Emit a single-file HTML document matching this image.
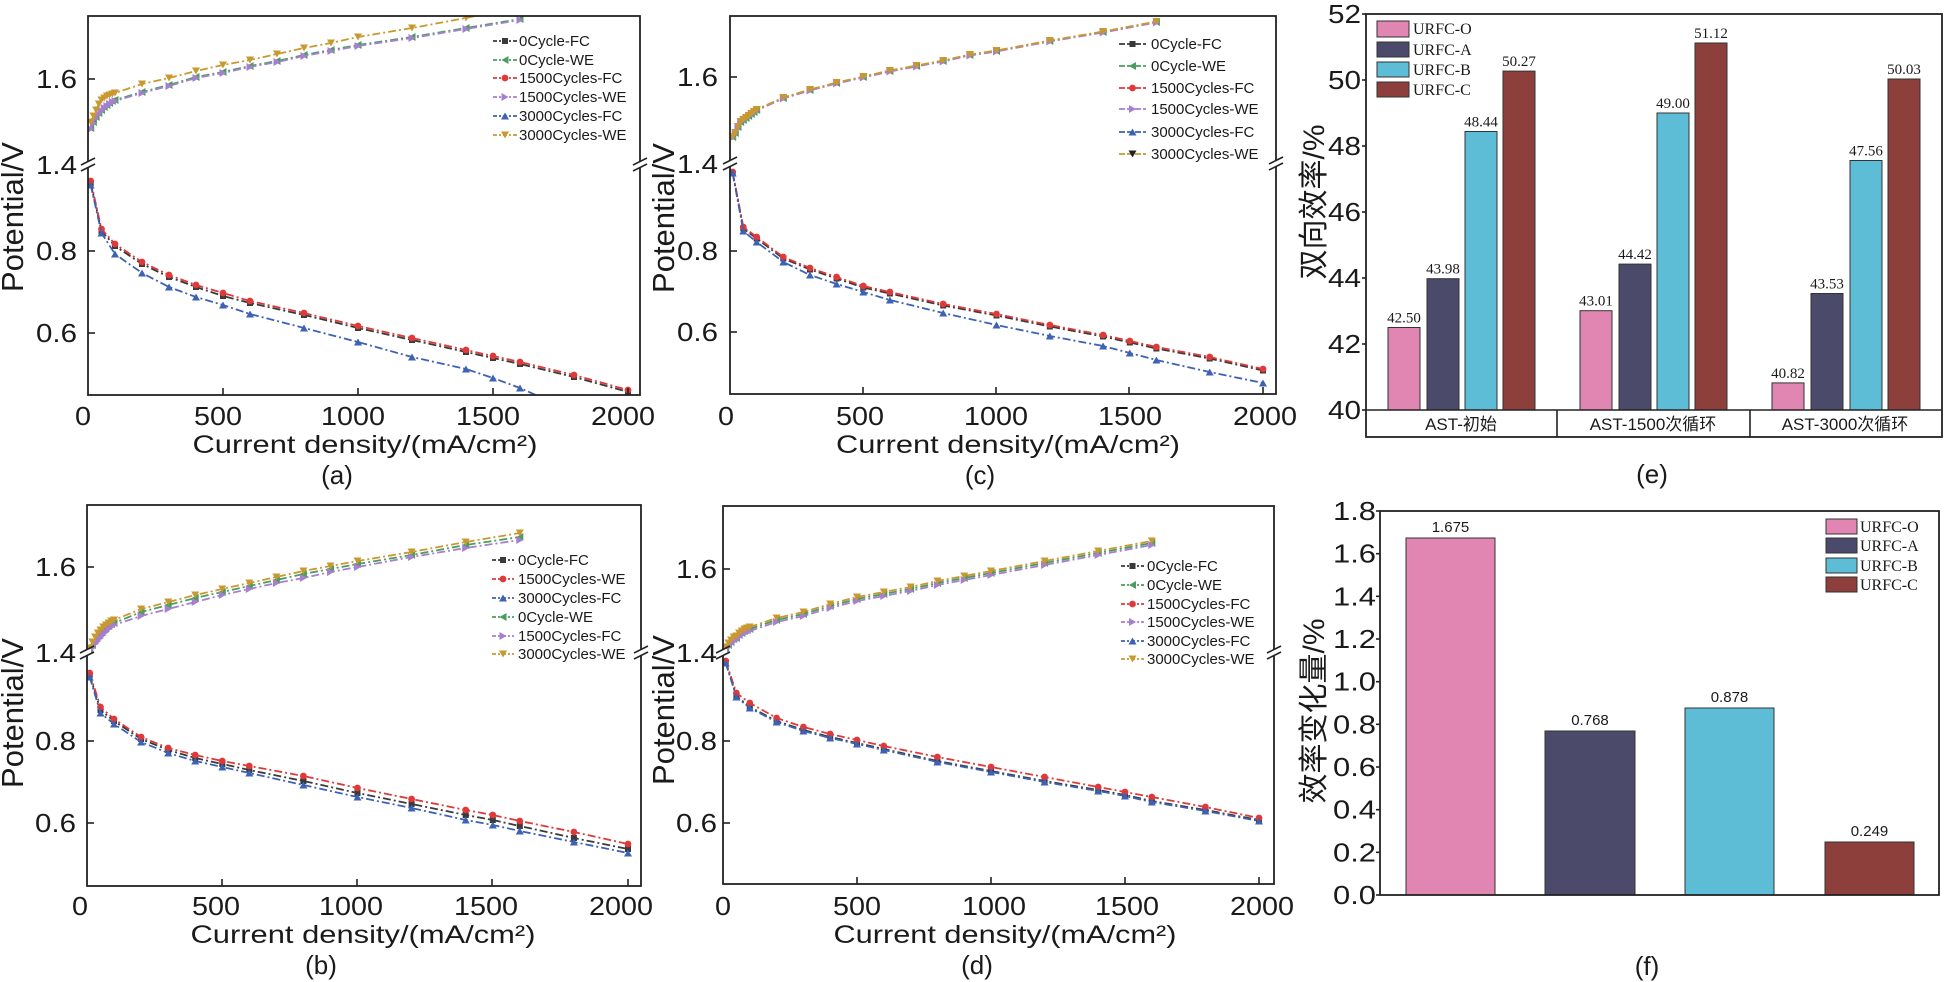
<!DOCTYPE html>
<html><head><meta charset="utf-8"><style>
html,body{margin:0;padding:0;background:#fff;}
svg{display:block;}
.t{font-family:"Liberation Sans",Arial,sans-serif;fill:#1a1a1a;}
.s{font-family:"Liberation Serif","Times New Roman",serif;fill:#1a1a1a;}
.c{font-family:"Liberation Sans","Noto Sans CJK SC",sans-serif;fill:#1a1a1a;}
.ln{fill:none;stroke-width:1.8;stroke-dasharray:8 3 2 3;}
.fr{fill:none;stroke:#222;stroke-width:1.8;}
.tk{stroke:#222;stroke-width:1.6;}
</style></head><body>
<svg width="1951" height="982" viewBox="0 0 1951 982" xmlns="http://www.w3.org/2000/svg">
<defs>
<marker id="mSq" markerWidth="10" markerHeight="10" refX="5" refY="5" markerUnits="userSpaceOnUse" viewBox="0 0 10 10"><rect x="2" y="2" width="6" height="6" fill="#3a3a3a"/></marker>
<marker id="mCi" markerWidth="10" markerHeight="10" refX="5" refY="5" markerUnits="userSpaceOnUse" viewBox="0 0 10 10"><circle cx="5" cy="5" r="3.4" fill="#e0393a"/></marker>
<marker id="mTu" markerWidth="10" markerHeight="10" refX="5" refY="5" markerUnits="userSpaceOnUse" viewBox="0 0 10 10"><path d="M5 1.5 L9 8.5 L1 8.5 Z" fill="#3d62b5"/></marker>
<marker id="mTl" markerWidth="10" markerHeight="10" refX="5" refY="5" markerUnits="userSpaceOnUse" viewBox="0 0 10 10"><path d="M1.5 5 L8.5 1 L8.5 9 Z" fill="#4a9d5e"/></marker>
<marker id="mTr" markerWidth="10" markerHeight="10" refX="5" refY="5" markerUnits="userSpaceOnUse" viewBox="0 0 10 10"><path d="M8.5 5 L1.5 1 L1.5 9 Z" fill="#a67fd0"/></marker>
<marker id="mTd" markerWidth="10" markerHeight="10" refX="5" refY="5" markerUnits="userSpaceOnUse" viewBox="0 0 10 10"><path d="M5 8.5 L9 1.5 L1 1.5 Z" fill="#c9982f"/></marker>
<marker id="mTdk" markerWidth="10" markerHeight="10" refX="5" refY="5" markerUnits="userSpaceOnUse" viewBox="0 0 10 10"><path d="M5 8.5 L9 1.5 L1 1.5 Z" fill="#222"/></marker>
<clipPath id="ca"><rect x="88" y="16" width="552" height="379"/></clipPath>
<clipPath id="cc"><rect x="730" y="16" width="546" height="378"/></clipPath>
<clipPath id="cb"><rect x="87" y="505" width="554" height="381"/></clipPath>
<clipPath id="cd"><rect x="723" y="506" width="551" height="378"/></clipPath>
</defs>
<rect width="1951" height="982" fill="#fff"/>

<!-- ================= PANEL (a) ================= -->
<g clip-path="url(#ca)">
<polyline class="ln" stroke="#4a9d5e" marker-start="url(#mTl)" marker-mid="url(#mTl)" marker-end="url(#mTl)" points="90.7,128 93.4,122 96.1,117 98.8,113 101.5,110 104.2,107 106.9,105 109.6,103 112.3,101 115,100 142,92 169,85 196,77 223,72 250,66 277,61 304,55 331,50 358,45 412,37 466,28 520,19"/>
<polyline class="ln" stroke="#a67fd0" marker-start="url(#mTr)" marker-mid="url(#mTr)" marker-end="url(#mTr)" points="90.7,129 93.4,123 96.1,118 98.8,114 101.5,111 104.2,108 106.9,106 109.6,104 112.3,102 115,101 142,93 169,86 196,78 223,73 250,67 277,62 304,56 331,51 358,46 412,38 466,29 520,20"/>
<polyline class="ln" stroke="#c9982f" marker-start="url(#mTd)" marker-mid="url(#mTd)" marker-end="url(#mTd)" points="90.7,122 93.4,116 96.1,110 98.8,104 101.5,100 104.2,98 106.9,96 109.6,95 112.3,94 115,93 142,84 169,78 196,71 223,65 250,60 277,54 304,48 331,43 358,37 412,28 466,18 493,12"/>
<polyline class="ln" stroke="#3a3a3a" marker-start="url(#mSq)" marker-mid="url(#mSq)" marker-end="url(#mSq)" points="90.7,183 101.5,231 115,246 142,264 169,277 196,287 223,296 250,303 304,315 358,328 412,340 466,352 493,358 520,364 574,377 628,392"/>
<polyline class="ln" stroke="#e0393a" marker-start="url(#mCi)" marker-mid="url(#mCi)" marker-end="url(#mCi)" points="90.7,181 101.5,229 115,244 142,262 169,275 196,285 223,293 250,301 304,313 358,326 412,338 466,350 493,356 520,362 574,375 628,390"/>
<polyline class="ln" stroke="#3d62b5" marker-start="url(#mTu)" marker-mid="url(#mTu)" marker-end="url(#mTu)" points="90.7,185 101.5,233 115,254 142,273 169,287 196,297 223,305 250,314 304,328 358,342 412,357 466,369 493,378 520,388 547,400"/>
</g>
<rect class="fr" x="88" y="16" width="552" height="379"/>
<g class="tk">
<line x1="88" y1="79" x2="95" y2="79"/><line x1="88" y1="251" x2="95" y2="251"/><line x1="88" y1="333" x2="95" y2="333"/>
<line x1="223" y1="395" x2="223" y2="388"/><line x1="358" y1="395" x2="358" y2="388"/><line x1="493" y1="395" x2="493" y2="388"/><line x1="628" y1="395" x2="628" y2="388"/>
</g>
<g stroke="#222" stroke-width="1.6">
<rect x="84" y="161" width="8" height="6" fill="#fff" stroke="none"/>
<line x1="81" y1="165" x2="95" y2="158"/><line x1="81" y1="171" x2="95" y2="164"/>
<rect x="636" y="161" width="8" height="6" fill="#fff" stroke="none"/>
<line x1="633" y1="165" x2="647" y2="158"/><line x1="633" y1="171" x2="647" y2="164"/>
</g>
<g class="t" font-size="26" text-anchor="end">
<text x="77" y="88" textLength="41" lengthAdjust="spacingAndGlyphs">1.6</text>
<text x="77" y="174" textLength="41" lengthAdjust="spacingAndGlyphs">1.4</text>
<text x="77" y="260" textLength="41" lengthAdjust="spacingAndGlyphs">0.8</text>
<text x="77" y="342" textLength="41" lengthAdjust="spacingAndGlyphs">0.6</text>
</g>
<g class="t" font-size="26" text-anchor="middle">
<text x="83" y="425" textLength="16" lengthAdjust="spacingAndGlyphs">0</text>
<text x="218" y="425" textLength="48" lengthAdjust="spacingAndGlyphs">500</text>
<text x="353" y="425" textLength="64" lengthAdjust="spacingAndGlyphs">1000</text>
<text x="488" y="425" textLength="64" lengthAdjust="spacingAndGlyphs">1500</text>
<text x="623" y="425" textLength="64" lengthAdjust="spacingAndGlyphs">2000</text>
</g>
<text class="t" font-size="25" x="365" y="453" text-anchor="middle" textLength="345" lengthAdjust="spacingAndGlyphs">Current density/(mA/cm²)</text>
<text class="t" font-size="31" transform="translate(23,217) rotate(-90)" text-anchor="middle">Potential/V</text>
<text class="t" font-size="26" x="337" y="484" text-anchor="middle">(a)</text>
<g fill="none" stroke-width="1.8" stroke-dasharray="4 2 2 2">
<polyline stroke="#3a3a3a" points="493,41 505,41 517,41" marker-mid="url(#mSq)"/>
<polyline stroke="#4a9d5e" points="493,60 505,60 517,60" marker-mid="url(#mTl)"/>
<polyline stroke="#e0393a" points="493,78 505,78 517,78" marker-mid="url(#mCi)"/>
<polyline stroke="#a67fd0" points="493,97 505,97 517,97" marker-mid="url(#mTr)"/>
<polyline stroke="#3d62b5" points="493,116 505,116 517,116" marker-mid="url(#mTu)"/>
<polyline stroke="#c9982f" points="493,135 505,135 517,135" marker-mid="url(#mTd)"/>
</g>
<g class="t" font-size="15">
<text x="519" y="46">0Cycle-FC</text>
<text x="519" y="65">0Cycle-WE</text>
<text x="519" y="83">1500Cycles-FC</text>
<text x="519" y="102">1500Cycles-WE</text>
<text x="519" y="121">3000Cycles-FC</text>
<text x="519" y="140">3000Cycles-WE</text>
</g>

<!-- ================= PANEL (c) ================= -->
<g clip-path="url(#cc)">
<polyline class="ln" stroke="#4a9d5e" marker-start="url(#mTl)" marker-mid="url(#mTl)" marker-end="url(#mTl)" points="732.7,137 735.3,133 738,127 740.7,122 743.3,120 746,118 748.7,116 751.3,114 754,112 756.7,110 783.3,98 810,90 836.6,83 863.3,77 889.9,71 916.6,66 943.2,61 969.9,55 996.5,51 1049.8,41 1103.1,32 1156.4,22"/>
<polyline class="ln" stroke="#a67fd0" marker-start="url(#mTr)" marker-mid="url(#mTr)" marker-end="url(#mTr)" points="732.7,137.5 735.3,133.5 738,127.5 740.7,122.5 743.3,120.5 746,118.5 748.7,116.5 751.3,114.5 754,112.5 756.7,110.5 783.3,98.5 810,90.5 836.6,83.5 863.3,77.5 889.9,71.5 916.6,66.5 943.2,61.5 969.9,55.5 996.5,51.5 1049.8,41.5 1103.1,32.5 1156.4,22.5"/>
<polyline class="ln" stroke="#c9982f" marker-start="url(#mTd)" marker-mid="url(#mTd)" marker-end="url(#mTd)" points="732.7,136.5 735.3,132.5 738,126.5 740.7,121.5 743.3,119.5 746,117.5 748.7,115.5 751.3,113.5 754,111.5 756.7,109.5 783.3,97.5 810,89.5 836.6,82.5 863.3,76.5 889.9,70.5 916.6,65.5 943.2,60.5 969.9,54.5 996.5,50.5 1049.8,40.5 1103.1,31.5 1156.4,21.5"/>
<polyline class="ln" stroke="#3a3a3a" marker-start="url(#mSq)" marker-mid="url(#mSq)" marker-end="url(#mSq)" points="732.7,173.5 743.3,228.5 756.7,238.5 783.3,258.5 810,269.5 836.6,278.5 863.3,287.5 889.9,293.5 943.2,305.5 996.5,315.5 1049.8,326.5 1103.1,336.5 1129.8,342.5 1156.4,348.5 1209.7,358.5 1263,370.5"/>
<polyline class="ln" stroke="#e0393a" marker-start="url(#mCi)" marker-mid="url(#mCi)" marker-end="url(#mCi)" points="732.7,172 743.3,227 756.7,237 783.3,257 810,268 836.6,277 863.3,286 889.9,292 943.2,304 996.5,314 1049.8,325 1103.1,335 1129.8,341 1156.4,347 1209.7,357 1263,369"/>
<polyline class="ln" stroke="#3d62b5" marker-start="url(#mTu)" marker-mid="url(#mTu)" marker-end="url(#mTu)" points="732.7,173 743.3,231 756.7,242 783.3,262 810,275 836.6,284 863.3,292 889.9,300 943.2,313 996.5,325 1049.8,336 1103.1,346 1129.8,353 1156.4,360 1209.7,372 1263,383"/>
</g>
<rect class="fr" x="730" y="16" width="546" height="378"/>
<g class="tk">
<line x1="730" y1="77" x2="737" y2="77"/><line x1="730" y1="251" x2="737" y2="251"/><line x1="730" y1="332" x2="737" y2="332"/>
<line x1="863" y1="394" x2="863" y2="387"/><line x1="996" y1="394" x2="996" y2="387"/><line x1="1129" y1="394" x2="1129" y2="387"/><line x1="1263" y1="394" x2="1263" y2="387"/>
</g>
<g stroke="#222" stroke-width="1.6">
<rect x="726" y="160" width="8" height="6" fill="#fff" stroke="none"/>
<line x1="723" y1="164" x2="737" y2="157"/><line x1="723" y1="170" x2="737" y2="163"/>
<rect x="1272" y="160" width="8" height="6" fill="#fff" stroke="none"/>
<line x1="1269" y1="164" x2="1283" y2="157"/><line x1="1269" y1="170" x2="1283" y2="163"/>
</g>
<g class="t" font-size="26" text-anchor="end">
<text x="718" y="86" textLength="41" lengthAdjust="spacingAndGlyphs">1.6</text>
<text x="718" y="173" textLength="41" lengthAdjust="spacingAndGlyphs">1.4</text>
<text x="718" y="260" textLength="41" lengthAdjust="spacingAndGlyphs">0.8</text>
<text x="718" y="341" textLength="41" lengthAdjust="spacingAndGlyphs">0.6</text>
</g>
<g class="t" font-size="26" text-anchor="middle">
<text x="726" y="425" textLength="16" lengthAdjust="spacingAndGlyphs">0</text>
<text x="860" y="425" textLength="48" lengthAdjust="spacingAndGlyphs">500</text>
<text x="996" y="425" textLength="64" lengthAdjust="spacingAndGlyphs">1000</text>
<text x="1130" y="425" textLength="64" lengthAdjust="spacingAndGlyphs">1500</text>
<text x="1265" y="425" textLength="64" lengthAdjust="spacingAndGlyphs">2000</text>
</g>
<text class="t" font-size="25" x="1008" y="453" text-anchor="middle" textLength="344" lengthAdjust="spacingAndGlyphs">Current density/(mA/cm²)</text>
<text class="t" font-size="31" transform="translate(674,218) rotate(-90)" text-anchor="middle">Potential/V</text>
<text class="t" font-size="26" x="980" y="484" text-anchor="middle">(c)</text>
<g fill="none" stroke-width="1.8" stroke-dasharray="6 2">
<polyline stroke="#3a3a3a" points="1119,44 1132.5,44 1146,44" marker-mid="url(#mSq)"/>
<polyline stroke="#4a9d5e" points="1119,66 1132.5,66 1146,66" marker-mid="url(#mTl)"/>
<polyline stroke="#e0393a" points="1119,88 1132.5,88 1146,88" marker-mid="url(#mCi)"/>
<polyline stroke="#a67fd0" points="1119,109 1132.5,109 1146,109" marker-mid="url(#mTr)"/>
<polyline stroke="#3d62b5" points="1119,132 1132.5,132 1146,132" marker-mid="url(#mTu)"/>
<polyline stroke="#c9982f" points="1119,154 1132.5,154 1146,154" marker-mid="url(#mTdk)"/>
</g>
<g class="t" font-size="15">
<text x="1151" y="49">0Cycle-FC</text>
<text x="1151" y="71">0Cycle-WE</text>
<text x="1151" y="93">1500Cycles-FC</text>
<text x="1151" y="114">1500Cycles-WE</text>
<text x="1151" y="137">3000Cycles-FC</text>
<text x="1151" y="159">3000Cycles-WE</text>
</g>

<!-- ================= PANEL (b) ================= -->
<g clip-path="url(#cb)">
<polyline class="ln" stroke="#4a9d5e" marker-start="url(#mTl)" marker-mid="url(#mTl)" marker-end="url(#mTl)" points="89.7,650 92.4,645 95.1,640 97.8,636 100.5,633 103.2,630 105.9,628 108.6,626 111.3,624 114,623 141.1,612 168.2,605 195.2,598 222.3,592 249.3,586 276.4,580 303.4,574 330.5,569 357.5,564 411.6,555 465.7,545 519.8,537"/>
<polyline class="ln" stroke="#a67fd0" marker-start="url(#mTr)" marker-mid="url(#mTr)" marker-end="url(#mTr)" points="89.7,652 92.4,648 95.1,644 97.8,641 100.5,638 103.2,635 105.9,632 108.6,629 111.3,627 114,625 141.1,616 168.2,609 195.2,602 222.3,595 249.3,589 276.4,583 303.4,578 330.5,572 357.5,567 411.6,557 465.7,548 519.8,540"/>
<polyline class="ln" stroke="#c9982f" marker-start="url(#mTd)" marker-mid="url(#mTd)" marker-end="url(#mTd)" points="89.7,648 92.4,642 95.1,637 97.8,633 100.5,630 103.2,627 105.9,625 108.6,623 111.3,621 114,620 141.1,609 168.2,602 195.2,595 222.3,589 249.3,583 276.4,577 303.4,571 330.5,566 357.5,561 411.6,552 465.7,542 519.8,533"/>
<polyline class="ln" stroke="#3a3a3a" marker-start="url(#mSq)" marker-mid="url(#mSq)" marker-end="url(#mSq)" points="89.7,675 100.5,710 114,721 141.1,739 168.2,750 195.2,758 222.3,764 249.3,770 303.4,781 357.5,793 411.6,804 465.7,815 492.8,820 519.8,826 573.9,838 628,849"/>
<polyline class="ln" stroke="#e0393a" marker-start="url(#mCi)" marker-mid="url(#mCi)" marker-end="url(#mCi)" points="89.7,673 100.5,707 114,719 141.1,737 168.2,748 195.2,755 222.3,761 249.3,766 303.4,776 357.5,788 411.6,799 465.7,810 492.8,815 519.8,821 573.9,832 628,844"/>
<polyline class="ln" stroke="#3d62b5" marker-start="url(#mTu)" marker-mid="url(#mTu)" marker-end="url(#mTu)" points="89.7,677 100.5,713 114,724 141.1,742 168.2,753 195.2,761 222.3,767 249.3,773 303.4,785 357.5,797 411.6,808 465.7,820 492.8,825 519.8,831 573.9,842 628,853"/>
</g>
<rect class="fr" x="87" y="505" width="554" height="381"/>
<g class="tk">
<line x1="87" y1="567" x2="94" y2="567"/><line x1="87" y1="741" x2="94" y2="741"/><line x1="87" y1="823" x2="94" y2="823"/>
<line x1="222" y1="886" x2="222" y2="879"/><line x1="357" y1="886" x2="357" y2="879"/><line x1="492" y1="886" x2="492" y2="879"/><line x1="628" y1="886" x2="628" y2="879"/>
</g>
<g stroke="#222" stroke-width="1.6">
<rect x="83" y="649" width="8" height="6" fill="#fff" stroke="none"/>
<line x1="80" y1="653" x2="94" y2="646"/><line x1="80" y1="659" x2="94" y2="652"/>
<rect x="637" y="649" width="8" height="6" fill="#fff" stroke="none"/>
<line x1="634" y1="653" x2="648" y2="646"/><line x1="634" y1="659" x2="648" y2="652"/>
</g>
<g class="t" font-size="26" text-anchor="end">
<text x="76" y="576" textLength="41" lengthAdjust="spacingAndGlyphs">1.6</text>
<text x="76" y="662" textLength="41" lengthAdjust="spacingAndGlyphs">1.4</text>
<text x="76" y="750" textLength="41" lengthAdjust="spacingAndGlyphs">0.8</text>
<text x="76" y="832" textLength="41" lengthAdjust="spacingAndGlyphs">0.6</text>
</g>
<g class="t" font-size="26" text-anchor="middle">
<text x="80" y="915" textLength="16" lengthAdjust="spacingAndGlyphs">0</text>
<text x="216" y="915" textLength="48" lengthAdjust="spacingAndGlyphs">500</text>
<text x="351" y="915" textLength="64" lengthAdjust="spacingAndGlyphs">1000</text>
<text x="486" y="915" textLength="64" lengthAdjust="spacingAndGlyphs">1500</text>
<text x="621" y="915" textLength="64" lengthAdjust="spacingAndGlyphs">2000</text>
</g>
<text class="t" font-size="25" x="363" y="943" text-anchor="middle" textLength="345" lengthAdjust="spacingAndGlyphs">Current density/(mA/cm²)</text>
<text class="t" font-size="31" transform="translate(23,713) rotate(-90)" text-anchor="middle">Potential/V</text>
<text class="t" font-size="26" x="321" y="974" text-anchor="middle">(b)</text>
<g fill="none" stroke-width="1.8" stroke-dasharray="4 2 2 2">
<polyline stroke="#3a3a3a" points="492,560 503,560 514,560" marker-mid="url(#mSq)"/>
<polyline stroke="#e0393a" points="492,579 503,579 514,579" marker-mid="url(#mCi)"/>
<polyline stroke="#3d62b5" points="492,598 503,598 514,598" marker-mid="url(#mTu)"/>
<polyline stroke="#4a9d5e" points="492,617 503,617 514,617" marker-mid="url(#mTl)"/>
<polyline stroke="#a67fd0" points="492,636 503,636 514,636" marker-mid="url(#mTr)"/>
<polyline stroke="#c9982f" points="492,654 503,654 514,654" marker-mid="url(#mTd)"/>
</g>
<g class="t" font-size="15">
<text x="518" y="565">0Cycle-FC</text>
<text x="518" y="584">1500Cycles-WE</text>
<text x="518" y="603">3000Cycles-FC</text>
<text x="518" y="622">0Cycle-WE</text>
<text x="518" y="641">1500Cycles-FC</text>
<text x="518" y="659">3000Cycles-WE</text>
</g>

<!-- ================= PANEL (d) ================= -->
<g clip-path="url(#cd)">
<polyline class="ln" stroke="#4a9d5e" marker-start="url(#mTl)" marker-mid="url(#mTl)" marker-end="url(#mTl)" points="725.7,649 728.4,645 731,642 733.7,639 736.4,638 739.1,635 741.8,633 744.4,631 747.1,630 749.8,629 776.6,620 803.4,614 830.2,606 857,599 883.8,594 910.6,589 937.4,583 964.2,578 991,573 1044.6,563 1098.2,553 1151.8,543"/>
<polyline class="ln" stroke="#a67fd0" marker-start="url(#mTr)" marker-mid="url(#mTr)" marker-end="url(#mTr)" points="725.7,651 728.4,647 731,644 733.7,641 736.4,640 739.1,637 741.8,635 744.4,633 747.1,632 749.8,631 776.6,622 803.4,616 830.2,608 857,601 883.8,596 910.6,591 937.4,585 964.2,580 991,575 1044.6,565 1098.2,555 1151.8,545"/>
<polyline class="ln" stroke="#c9982f" marker-start="url(#mTd)" marker-mid="url(#mTd)" marker-end="url(#mTd)" points="725.7,647 728.4,643 731,640 733.7,637 736.4,636 739.1,633 741.8,631 744.4,629 747.1,628 749.8,627 776.6,618 803.4,612 830.2,604 857,597 883.8,592 910.6,587 937.4,581 964.2,576 991,571 1044.6,561 1098.2,551 1151.8,541"/>
<polyline class="ln" stroke="#3a3a3a" marker-start="url(#mSq)" marker-mid="url(#mSq)" marker-end="url(#mSq)" points="725.7,662 736.4,696 749.8,707 776.6,721 803.4,730 830.2,737 857,743 883.8,749 937.4,761 991,771 1044.6,781 1098.2,790 1125,795 1151.8,801 1205.4,810 1259,820"/>
<polyline class="ln" stroke="#e0393a" marker-start="url(#mCi)" marker-mid="url(#mCi)" marker-end="url(#mCi)" points="725.7,661 736.4,693 749.8,703 776.6,718 803.4,727 830.2,734 857,740 883.8,746 937.4,757 991,767 1044.6,777 1098.2,787 1125,792 1151.8,797 1205.4,807 1259,818"/>
<polyline class="ln" stroke="#3d62b5" marker-start="url(#mTu)" marker-mid="url(#mTu)" marker-end="url(#mTu)" points="725.7,663 736.4,697 749.8,708 776.6,722 803.4,731 830.2,738 857,744 883.8,750 937.4,762 991,772 1044.6,782 1098.2,791 1125,796 1151.8,802 1205.4,811 1259,821"/>
</g>
<rect class="fr" x="723" y="506" width="551" height="378"/>
<g class="tk">
<line x1="723" y1="569" x2="730" y2="569"/><line x1="723" y1="741" x2="730" y2="741"/><line x1="723" y1="823" x2="730" y2="823"/>
<line x1="857" y1="884" x2="857" y2="877"/><line x1="991" y1="884" x2="991" y2="877"/><line x1="1125" y1="884" x2="1125" y2="877"/><line x1="1259" y1="884" x2="1259" y2="877"/>
</g>
<g stroke="#222" stroke-width="1.6">
<rect x="719" y="649" width="8" height="6" fill="#fff" stroke="none"/>
<line x1="716" y1="653" x2="730" y2="646"/><line x1="716" y1="659" x2="730" y2="652"/>
<rect x="1270" y="649" width="8" height="6" fill="#fff" stroke="none"/>
<line x1="1267" y1="653" x2="1281" y2="646"/><line x1="1267" y1="659" x2="1281" y2="652"/>
</g>
<g class="t" font-size="26" text-anchor="end">
<text x="717" y="578" textLength="41" lengthAdjust="spacingAndGlyphs">1.6</text>
<text x="717" y="662" textLength="41" lengthAdjust="spacingAndGlyphs">1.4</text>
<text x="717" y="750" textLength="41" lengthAdjust="spacingAndGlyphs">0.8</text>
<text x="717" y="832" textLength="41" lengthAdjust="spacingAndGlyphs">0.6</text>
</g>
<g class="t" font-size="26" text-anchor="middle">
<text x="723" y="915" textLength="16" lengthAdjust="spacingAndGlyphs">0</text>
<text x="857" y="915" textLength="48" lengthAdjust="spacingAndGlyphs">500</text>
<text x="994" y="915" textLength="64" lengthAdjust="spacingAndGlyphs">1000</text>
<text x="1127" y="915" textLength="64" lengthAdjust="spacingAndGlyphs">1500</text>
<text x="1262" y="915" textLength="64" lengthAdjust="spacingAndGlyphs">2000</text>
</g>
<text class="t" font-size="25" x="1005" y="943" text-anchor="middle" textLength="343" lengthAdjust="spacingAndGlyphs">Current density/(mA/cm²)</text>
<text class="t" font-size="31" transform="translate(674,710) rotate(-90)" text-anchor="middle">Potential/V</text>
<text class="t" font-size="26" x="977" y="974" text-anchor="middle">(d)</text>
<g fill="none" stroke-width="1.8" stroke-dasharray="4 2 2 2">
<polyline stroke="#3a3a3a" points="1121,566 1132.5,566 1144,566" marker-mid="url(#mSq)"/>
<polyline stroke="#4a9d5e" points="1121,585 1132.5,585 1144,585" marker-mid="url(#mTl)"/>
<polyline stroke="#e0393a" points="1121,604 1132.5,604 1144,604" marker-mid="url(#mCi)"/>
<polyline stroke="#a67fd0" points="1121,622 1132.5,622 1144,622" marker-mid="url(#mTr)"/>
<polyline stroke="#3d62b5" points="1121,641 1132.5,641 1144,641" marker-mid="url(#mTu)"/>
<polyline stroke="#c9982f" points="1121,659 1132.5,659 1144,659" marker-mid="url(#mTd)"/>
</g>
<g class="t" font-size="15">
<text x="1147" y="571">0Cycle-FC</text>
<text x="1147" y="590">0Cycle-WE</text>
<text x="1147" y="609">1500Cycles-FC</text>
<text x="1147" y="627">1500Cycles-WE</text>
<text x="1147" y="646">3000Cycles-FC</text>
<text x="1147" y="664">3000Cycles-WE</text>
</g>

<!-- ================= PANEL (e) ================= -->
<g stroke="#333" stroke-width="1">
<rect x="1388" y="327.5" width="32" height="82.5" fill="#e186b3"/>
<rect x="1427" y="278.7" width="32" height="131.3" fill="#4b4a6a"/>
<rect x="1465" y="131.5" width="32" height="278.5" fill="#5dbdd6"/>
<rect x="1503" y="71.1" width="32" height="338.9" fill="#8d3f3b"/>
<rect x="1580" y="310.7" width="32" height="99.3" fill="#e186b3"/>
<rect x="1619" y="264.1" width="32" height="145.9" fill="#4b4a6a"/>
<rect x="1657" y="113" width="32" height="297" fill="#5dbdd6"/>
<rect x="1695" y="43" width="32" height="367" fill="#8d3f3b"/>
<rect x="1772" y="382.9" width="32" height="27.1" fill="#e186b3"/>
<rect x="1811" y="293.5" width="32" height="116.5" fill="#4b4a6a"/>
<rect x="1850" y="160.5" width="32" height="249.5" fill="#5dbdd6"/>
<rect x="1888" y="79" width="32" height="331" fill="#8d3f3b"/>
</g>
<g class="s" font-size="15" text-anchor="middle">
<text x="1404" y="322.5">42.50</text>
<text x="1443" y="273.7">43.98</text>
<text x="1481" y="126.5">48.44</text>
<text x="1519" y="66.1">50.27</text>
<text x="1596" y="305.7">43.01</text>
<text x="1635" y="259.1">44.42</text>
<text x="1673" y="108">49.00</text>
<text x="1711" y="38">51.12</text>
<text x="1788" y="377.9">40.82</text>
<text x="1827" y="288.5">43.53</text>
<text x="1866" y="155.5">47.56</text>
<text x="1904" y="74">50.03</text>
</g>
<rect class="fr" x="1366" y="14" width="576" height="423"/>
<g class="tk">
<line x1="1366" y1="410" x2="1942" y2="410"/>
<line x1="1557" y1="410" x2="1557" y2="437"/>
<line x1="1750" y1="410" x2="1750" y2="437"/>
<line x1="1362" y1="14" x2="1366" y2="14"/><line x1="1362" y1="80" x2="1366" y2="80"/><line x1="1362" y1="146" x2="1366" y2="146"/><line x1="1362" y1="212" x2="1366" y2="212"/><line x1="1362" y1="278" x2="1366" y2="278"/><line x1="1362" y1="344" x2="1366" y2="344"/><line x1="1362" y1="410" x2="1366" y2="410"/>
</g>
<g class="t" font-size="26" text-anchor="end">
<text x="1361" y="23" textLength="33" lengthAdjust="spacingAndGlyphs">52</text>
<text x="1361" y="89" textLength="33" lengthAdjust="spacingAndGlyphs">50</text>
<text x="1361" y="155" textLength="33" lengthAdjust="spacingAndGlyphs">48</text>
<text x="1361" y="221" textLength="33" lengthAdjust="spacingAndGlyphs">46</text>
<text x="1361" y="287" textLength="33" lengthAdjust="spacingAndGlyphs">44</text>
<text x="1361" y="353" textLength="33" lengthAdjust="spacingAndGlyphs">42</text>
<text x="1361" y="419" textLength="33" lengthAdjust="spacingAndGlyphs">40</text>
</g>
<g class="c" font-size="17" text-anchor="middle">
<text x="1461" y="430">AST-初始</text>
<text x="1653" y="430">AST-1500次循环</text>
<text x="1845" y="430">AST-3000次循环</text>
</g>
<text class="c" font-size="30" transform="translate(1324,202) rotate(-90)" text-anchor="middle">双向效率/%</text>
<text class="t" font-size="26" x="1652" y="483" text-anchor="middle">(e)</text>
<g stroke="#333" stroke-width="1">
<rect x="1377" y="21" width="32" height="16" fill="#e186b3"/>
<rect x="1377" y="42" width="32" height="15" fill="#4b4a6a"/>
<rect x="1377" y="62" width="32" height="15" fill="#5dbdd6"/>
<rect x="1377" y="82" width="32" height="15" fill="#8d3f3b"/>
</g>
<g class="s" font-size="16">
<text x="1413" y="34">URFC-O</text>
<text x="1413" y="55">URFC-A</text>
<text x="1413" y="75">URFC-B</text>
<text x="1413" y="95">URFC-C</text>
</g>

<!-- ================= PANEL (f) ================= -->
<g stroke="#333" stroke-width="1">
<rect x="1406" y="538" width="89" height="357" fill="#e186b3"/>
<rect x="1545" y="731" width="90" height="164" fill="#4b4a6a"/>
<rect x="1685" y="708" width="89" height="187" fill="#5dbdd6"/>
<rect x="1825" y="842" width="89" height="53" fill="#8d3f3b"/>
</g>
<g class="t" font-size="15" text-anchor="middle">
<text x="1450.5" y="532">1.675</text>
<text x="1590" y="725">0.768</text>
<text x="1729.5" y="702">0.878</text>
<text x="1869.5" y="836">0.249</text>
</g>
<rect class="fr" x="1380" y="511" width="559" height="384"/>
<g class="tk">
<line x1="1376" y1="511" x2="1380" y2="511"/><line x1="1376" y1="553.7" x2="1380" y2="553.7"/><line x1="1376" y1="596.3" x2="1380" y2="596.3"/><line x1="1376" y1="639" x2="1380" y2="639"/><line x1="1376" y1="681.7" x2="1380" y2="681.7"/><line x1="1376" y1="724.3" x2="1380" y2="724.3"/><line x1="1376" y1="767" x2="1380" y2="767"/><line x1="1376" y1="809.7" x2="1380" y2="809.7"/><line x1="1376" y1="852.3" x2="1380" y2="852.3"/><line x1="1376" y1="895" x2="1380" y2="895"/>
</g>
<g class="t" font-size="26" text-anchor="end">
<text x="1376" y="520" textLength="43" lengthAdjust="spacingAndGlyphs">1.8</text>
<text x="1376" y="562.7" textLength="43" lengthAdjust="spacingAndGlyphs">1.6</text>
<text x="1376" y="605.3" textLength="43" lengthAdjust="spacingAndGlyphs">1.4</text>
<text x="1376" y="648" textLength="43" lengthAdjust="spacingAndGlyphs">1.2</text>
<text x="1376" y="690.7" textLength="43" lengthAdjust="spacingAndGlyphs">1.0</text>
<text x="1376" y="733.3" textLength="43" lengthAdjust="spacingAndGlyphs">0.8</text>
<text x="1376" y="776" textLength="43" lengthAdjust="spacingAndGlyphs">0.6</text>
<text x="1376" y="818.7" textLength="43" lengthAdjust="spacingAndGlyphs">0.4</text>
<text x="1376" y="861.3" textLength="43" lengthAdjust="spacingAndGlyphs">0.2</text>
<text x="1376" y="904" textLength="43" lengthAdjust="spacingAndGlyphs">0.0</text>
</g>
<text class="c" font-size="30" transform="translate(1324,711) rotate(-90)" text-anchor="middle">效率变化量/%</text>
<text class="t" font-size="26" x="1647" y="975" text-anchor="middle">(f)</text>
<g stroke="#333" stroke-width="1">
<rect x="1826" y="519" width="31" height="15" fill="#e186b3"/>
<rect x="1826" y="538" width="31" height="15" fill="#4b4a6a"/>
<rect x="1826" y="558" width="31" height="15" fill="#5dbdd6"/>
<rect x="1826" y="577" width="31" height="15" fill="#8d3f3b"/>
</g>
<g class="s" font-size="16">
<text x="1860" y="532">URFC-O</text>
<text x="1860" y="551">URFC-A</text>
<text x="1860" y="571">URFC-B</text>
<text x="1860" y="590">URFC-C</text>
</g>
</svg>
</body></html>
